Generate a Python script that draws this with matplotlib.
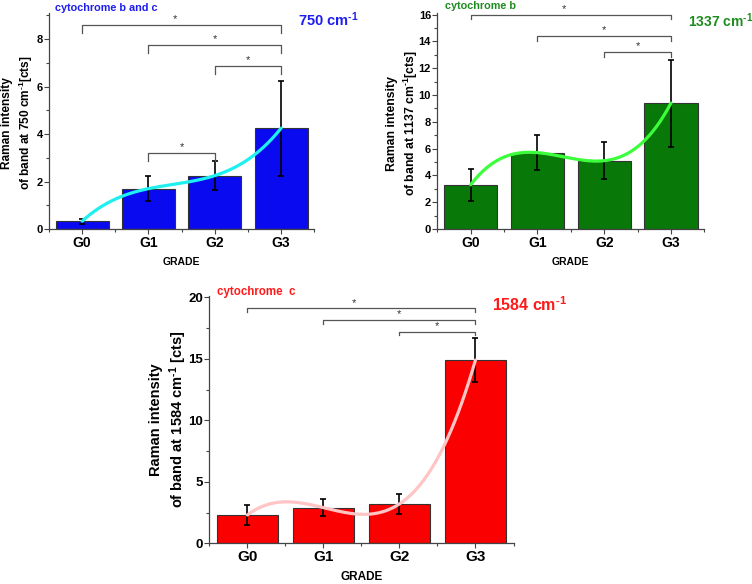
import numpy as np
import matplotlib
matplotlib.use("Agg")
import matplotlib.pyplot as plt
from matplotlib.ticker import MultipleLocator

plt.rcParams['font.family'] = ['Liberation Sans', 'DejaVu Sans']
plt.rcParams['font.weight'] = 'bold'
plt.rcParams['mathtext.fontset'] = 'custom'
plt.rcParams['mathtext.rm'] = 'Liberation Sans:bold'
plt.rcParams['mathtext.bf'] = 'Liberation Sans:bold'
plt.rcParams['mathtext.default'] = 'rm'

# ---------------- data ----------------
grades = ["G0", "G1", "G2", "G3"]

b_and_c_mean = [0.33, 1.70, 2.25, 4.25]
b_and_c_err = [0.10, 0.52, 0.62, 2.00]
b_and_c_brackets = [(0, 3, 8.59), (1, 3, 7.75), (2, 3, 6.88), (1, 2, 3.21)]

b_mean = [3.30, 5.70, 5.10, 9.40]
b_err = [1.20, 1.30, 1.40, 3.25]
b_brackets = [(0, 3, 16.0), (1, 3, 14.4), (2, 3, 13.2)]

c_mean = [2.30, 2.90, 3.20, 14.90]
c_err = [0.80, 0.70, 0.80, 1.78]
c_brackets = [(0, 3, 19.1), (1, 3, 18.15), (2, 3, 17.2)]

SUP = r"$^{\text{-1}}$"

W, H = 752, 584
fig = plt.figure(figsize=(W / 100, H / 100), dpi=100)


def ax_px(left, right, bottom, top):
    return fig.add_axes([left / W, 1 - bottom / H, (right - left) / W, (bottom - top) / H])


def panel(ax, mean, err, brackets, bar_color, curve_color, ymax, ymaj, ymin_, ylab,
          tick_fs, xtick_fs, lab_fs, xlab_fs, drop, lab_x, lab_y, ls):
    x = np.arange(len(grades))
    ax.bar(x, mean, width=0.8, color=bar_color, edgecolor="#333333", linewidth=0.8, zorder=2)
    ax.errorbar(x, mean, yerr=err, fmt="none", ecolor="black", elinewidth=1.2,
                capsize=2.5, capthick=1.2, zorder=3)
    coef = np.polyfit(x, mean, 3)
    xs = np.linspace(0, 3, 200)
    ax.plot(xs, np.polyval(coef, xs), color=curve_color, lw=2.3, zorder=4,
            solid_capstyle='round')
    for a, b, y in brackets:
        ax.plot([a, a, b, b], [y - drop, y, y, y - drop], color="#555555", lw=0.9,
                zorder=5, clip_on=False)
        sx = 1.4 if (a == 0 and b == 3) else (a + b) / 2
        ax.annotate("*", (sx, y), xytext=(0, 0.5), textcoords="offset points",
                    ha="center", va="bottom", fontsize=8, color="#333333",
                    fontweight="normal", annotation_clip=False)
    ax.set_xlim(-0.5, 3.5)
    ax.set_ylim(0, ymax)
    ax.set_xticks(x)
    ax.set_xticklabels(grades, fontsize=xtick_fs, fontweight="bold")
    ax.xaxis.set_minor_locator(MultipleLocator(0.5))
    ax.yaxis.set_major_locator(MultipleLocator(ymaj))
    ax.yaxis.set_minor_locator(MultipleLocator(ymin_))
    for s in ["top", "right"]:
        ax.spines[s].set_visible(False)
    for s in ["left", "bottom"]:
        ax.spines[s].set_color("#444444")
        ax.spines[s].set_linewidth(0.9)
    ax.tick_params(which="major", direction="out", length=3.5, width=0.8, color="#444444",
                   pad=1.5)
    ax.tick_params(which="minor", direction="out", length=2, width=0.8, color="#444444")
    ax.tick_params(axis="y", labelsize=tick_fs, pad=1.0)
    for t in ax.get_yticklabels():
        t.set_fontweight("bold")
    ax.set_ylabel(ylab, fontsize=lab_fs, fontweight="bold", linespacing=ls)
    ax.yaxis.set_label_coords(lab_x, lab_y)
    ax.set_xlabel("GRADE", fontsize=xlab_fs, fontweight="bold", labelpad=5)


ax1 = ax_px(49, 314.3, 229, 13)
panel(ax1, b_and_c_mean, b_and_c_err, b_and_c_brackets, "#0A0AF0", "#1EF0F0", 9.1, 2, 1,
      "Raman intensity\nof band at 750 cm" + SUP + "[cts]", 8, 10, 8.6, 7.5, 0.35,
      -0.054, 0.49, 1.25)

ax2 = ax_px(437.3, 704.4, 229, 13.3)
panel(ax2, b_mean, b_err, b_brackets, "#087808", "#3CFF3C", 16.1, 2, 1,
      "Raman intensity\nof band at 1137 cm" + SUP + "[cts]", 8, 10, 8.8, 7.5, 0.35,
      -0.066, 0.49, 1.3)

ax3 = ax_px(209.3, 513.5, 543.3, 296)
panel(ax3, c_mean, c_err, c_brackets, "#FA0000", "#FFC4C4", 20.1, 5, 2.5,
      "Raman intensity\nof band at 1584 cm" + SUP + " [cts]", 9.5, 11, 10.5, 8.5, 0.3,
      -0.066, 0.5, 1.3)


def ftext(x, y, s, color, fs, ha="left"):
    fig.text(x / W, 1 - y / H, s, color=color, fontsize=fs, fontweight="bold",
             ha=ha, va="center")


ftext(55, 8, "cytochrome b and c", "#1E1EF0", 7.8)
ftext(298, 20, "750 cm" + SUP, "#1E1EF0", 10.5)
ftext(445, 6, "cytochrome b", "#1E8C1E", 7.8)
ftext(688, 21, "1337 cm" + SUP, "#1E8C1E", 10)
ftext(217, 292, "cytochrome  c", "#FF1A1A", 8.3)
ftext(492, 305, "1584 cm" + SUP, "#FF1A1A", 11.5)

fig.savefig("out.png", dpi=100)
